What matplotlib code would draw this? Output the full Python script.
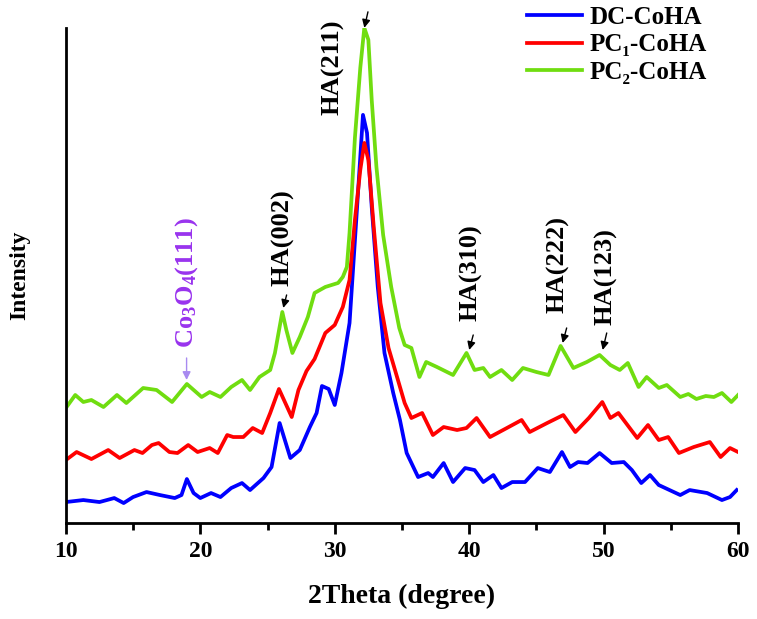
import numpy as np
import matplotlib
matplotlib.use("Agg")
import matplotlib.pyplot as plt

plt.rcParams['font.family'] = ['Liberation Serif', 'DejaVu Serif']
plt.rcParams['font.weight'] = 'bold'
plt.rcParams['mathtext.fontset'] = 'custom'
plt.rcParams['mathtext.rm'] = 'Liberation Serif:bold'
plt.rcParams['mathtext.it'] = 'Liberation Serif:bold'
plt.rcParams['mathtext.bf'] = 'Liberation Serif:bold'

# -----------------------------
# data (2theta in degree, intensity in arbitrary units)
# -----------------------------
green_x = [10.0, 10.7, 11.3, 11.9, 12.8, 13.8, 14.5, 15.75, 16.75, 17.9, 19.0, 20.1, 20.7,
           21.5, 22.3, 23.1, 23.7, 24.4, 25.2, 25.55, 26.1, 26.4, 26.85, 27.4, 28.0, 28.5,
           29.3, 30.25, 30.6, 30.9, 31.1, 31.5, 31.9, 32.2, 32.5, 32.75, 33.1, 33.6, 34.2,
           34.8, 35.2, 35.7, 36.3, 36.8, 37.6, 38.8, 39.8, 40.4, 41.05, 41.55, 42.4, 43.2,
           44.0, 45.0, 45.9, 46.8, 47.75, 48.75, 49.7, 50.5, 51.2, 51.8, 52.6, 53.2, 54.1,
           54.7, 55.7, 56.3, 56.9, 57.6, 58.2, 58.8, 59.5, 60.0]
green_y = [115, 128, 121, 123, 116, 128, 120, 135, 133, 121, 139, 126, 131,
           126, 136, 143, 133, 146, 153, 170, 211, 193, 170, 186, 206, 230,
           236, 240, 246, 256, 290, 385, 455, 495, 483, 423, 356, 288, 236,
           195, 178, 175, 146, 161, 156, 148, 170, 153, 155, 146, 153, 143,
           155, 151, 148, 177, 155, 161, 168, 158, 153, 160, 136, 146, 135,
           138, 126, 129, 124, 127, 126, 130, 121, 128]

red_x = [10.0, 10.8, 11.9, 13.15, 14.0, 15.1, 15.7, 16.4, 16.9, 17.7, 18.3, 19.1, 19.8,
         20.7, 21.3, 22.0, 22.45, 23.2, 23.9, 24.6, 25.2, 25.85, 26.8, 27.3, 27.9, 28.5,
         29.3, 30.0, 30.6, 31.1, 31.5, 31.9, 32.2, 32.5, 32.9, 33.4, 34.0, 34.7, 35.2,
         35.7, 36.5, 37.3, 38.1, 39.1, 39.8, 40.55, 41.55, 42.8, 43.9, 44.5, 45.8, 47.0,
         47.9, 48.9, 49.9, 50.5, 51.1, 52.5, 53.3, 54.1, 54.8, 55.6, 56.7, 57.9, 58.7,
         59.4, 60.0]
red_y = [63, 71, 64, 73, 65, 73, 70, 78, 80, 71, 70, 78, 71,
         75, 70, 88, 86, 86, 95, 90, 110, 134, 106, 133, 152, 164,
         190, 198, 216, 243, 303, 353, 380, 363, 296, 220, 175, 143, 120,
         105, 110, 88, 96, 93, 95, 105, 86, 95, 103, 91, 100, 108,
         91, 105, 121, 105, 110, 85, 98, 83, 86, 70, 76, 81, 66,
         75, 71]

blue_x = [10.0, 11.3, 12.5, 13.6, 14.3, 15.0, 16.0, 17.0, 18.1, 18.6, 19.0, 19.5, 20.0,
          20.8, 21.5, 22.3, 23.1, 23.7, 24.7, 25.3, 25.9, 26.7, 27.4, 28.15, 28.65, 29.05,
          29.55, 30.0, 30.5, 31.1, 31.6, 32.1, 32.4, 32.75, 33.2, 33.7, 34.35, 34.85, 35.35,
          36.2, 36.95, 37.3, 38.1, 38.8, 39.7, 40.4, 41.05, 41.8, 42.4, 43.2, 44.15, 45.1,
          46.0, 46.9, 47.5, 48.1, 48.8, 49.7, 50.6, 51.5, 52.1, 52.8, 53.45, 54.1, 55.7,
          56.4, 57.7, 58.8, 59.4, 59.9]
blue_y = [21, 23, 21, 25, 20, 26, 31, 28, 25, 28, 44, 30, 25,
          30, 26, 35, 40, 33, 45, 56, 100, 65, 73, 96, 110, 137,
          134, 118, 150, 200, 303, 408, 390, 316, 236, 170, 130, 103, 70,
          46, 50, 46, 60, 41, 55, 53, 41, 48, 35, 41, 41, 55,
          51, 71, 56, 61, 60, 70, 60, 61, 53, 40, 48, 38, 28,
          33, 30, 23, 26, 33]

labels = ["DC-CoHA", "PC\u2081-CoHA", "PC\u2082-CoHA"]
colors = ["#0000ff", "#ff0000", "#70dd10"]

# peak labels: text, text position, arrow tail, arrow head
peaks = [
    ("HA(211)", (29.87, 456), (32.47, 511), (32.2, 495)),
    ("HA(002)", (26.15, 285), (26.42, 228), (26.17, 215)),
    ("HA(310)", (40.13, 250), (40.30, 188), (40.00, 173)),
    ("HA(222)", (46.60, 258), (47.25, 195), (46.95, 180)),
    ("HA(123)", (50.20, 246), (50.23, 190), (49.93, 173)),
]

# -----------------------------
# plot
# -----------------------------
fig = plt.figure(figsize=(7.57, 6.19), dpi=100)
ax = fig.add_axes([0.087, 0.155, 0.888, 0.80])

lw = 2.7
ax.plot(blue_x, blue_y, color=colors[0], lw=lw, label=labels[0])
ax.plot(red_x, red_y, color=colors[1], lw=lw, label=labels[1])
ax.plot(green_x, green_y, color=colors[2], lw=lw, label=labels[2])

ax.set_xlim(10, 60)
ax.set_ylim(0, 495)
ax.set_xticks(np.arange(10, 61, 10))
ax.set_xticks(np.arange(15, 60, 10), minor=True)
ax.set_yticks([])
for s in ["top", "right"]:
    ax.spines[s].set_visible(False)
for s in ["left", "bottom"]:
    ax.spines[s].set_linewidth(2)
ax.tick_params(axis="x", which="major", length=8, width=2, direction="out",
               labelsize=17, pad=5)
ax.tick_params(axis="x", which="minor", length=5, width=2, direction="out")

ax.set_xlabel("2Theta (degree)", fontsize=20, fontweight="bold", labelpad=16)
ax.set_ylabel("Intensity", fontsize=17, fontweight="bold", labelpad=26)

for txt, tpos, tail, head in peaks:
    ax.text(tpos[0], tpos[1], txt, rotation=90, ha="center", va="center",
            fontsize=19, fontweight="bold", clip_on=False)
    ax.annotate("", xy=head, xytext=tail, annotation_clip=False,
                arrowprops=dict(arrowstyle="-|>", color="k", lw=1,
                                mutation_scale=12, shrinkA=0, shrinkB=0))

ax.text(18.98, 240, "Co$_3$O$_4$(111)", rotation=90, ha="center", va="center",
        fontsize=19, color="#9933ee", clip_on=False)
ax.annotate("", xy=(18.98, 143), xytext=(18.98, 165), annotation_clip=False,
            arrowprops=dict(arrowstyle="-|>", color="#a88af0", lw=1,
                            mutation_scale=12, shrinkA=0, shrinkB=0))

leg = ax.legend(loc="upper left", bbox_to_anchor=(527 / 757, 1 - 6 / 619),
                bbox_transform=fig.transFigure, frameon=False, borderpad=0,
                borderaxespad=0, prop={"size": 18, "weight": "bold"},
                handlelength=2.2, labelspacing=0.18, handletextpad=0.3)

fig.savefig("out.png", dpi=100)
